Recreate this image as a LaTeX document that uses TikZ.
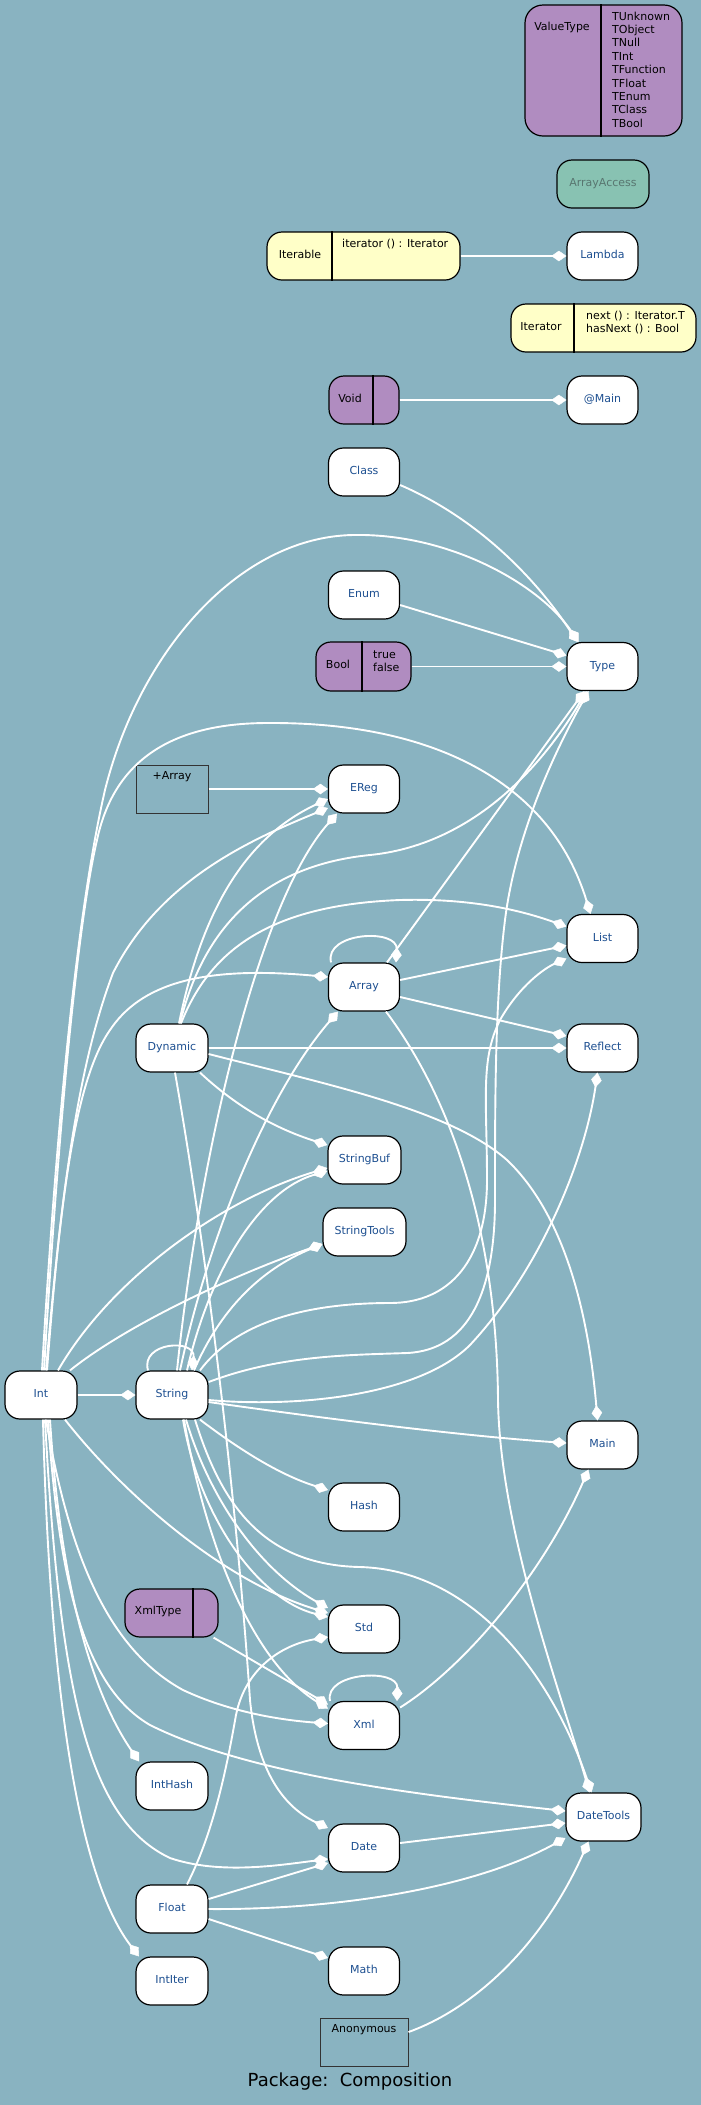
\documentclass[tikz,border=0pt]{standalone}
\usepackage{fontspec}
\setmainfont{DejaVu Sans}
\usetikzlibrary{arrows.meta}
\definecolor{bg}{RGB}{137,179,193}
\definecolor{purp}{RGB}{176,140,192}
\definecolor{yel}{RGB}{255,255,200}
\definecolor{grn}{RGB}{136,194,178}
\definecolor{nblue}{RGB}{30,80,145}
\definecolor{agray}{RGB}{88,118,112}
\tikzset{
  cls/.style={draw=black, line width=1.2pt, fill=white, rounded corners=15pt,
    minimum width=71pt, minimum height=48pt, inner sep=0pt, text=nblue,
    font=\fontsize{11}{13}\selectfont, text height=8pt, text depth=2.5pt},
  rec/.style={draw=black, line width=1.2pt, rounded corners=15pt, inner sep=0pt},
  one/.style={inner sep=0pt, text=black, font=\fontsize{11}{13}\selectfont, text height=8pt, text depth=2.5pt},
  multi/.style={inner sep=0pt, text=black, align=left},
  pkg/.style={draw=black!80, line width=1pt, inner sep=0pt},
  divider/.style={draw=black, line width=1.2pt},
  comp/.style={draw=white, line width=1.9pt, -{Diamond[length=15pt,width=10.5pt,line width=0.4pt]}},
}
\begin{document}
\begin{tikzpicture}[x=1pt,y=-1pt]
\fill[bg] (0,0) rectangle (701,2105);
\useasboundingbox (0,0) rectangle (701,2105);

% ---- split (record) nodes
\node[rec, fill=purp, minimum width=157pt, minimum height=131pt, rounded corners=18pt] (ValueType) at (603.5,70.5) {};
\draw[divider] ([xshift=-2.5pt]ValueType.north) -- ([xshift=-2.5pt]ValueType.south);
\node[one] (ValueTypeLbl) at (562,28) {ValueType};
\node[multi, anchor=north west, font=\fontsize{11}{13.4}\selectfont] (ValueTypeList) at (612,11.6) {TUnknown\\TObject\\TNull\\TInt\\TFunction\\TFloat\\TEnum\\TClass\\TBool};

\node[cls, fill=grn, text=agray, minimum width=92pt] (ArrayAccess) at (603,184) {ArrayAccess};

\node[rec, fill=yel, minimum width=193pt, minimum height=48pt] (Iterable) at (363.5,256) {};
\draw[divider] ([xshift=-31.5pt]Iterable.north) -- ([xshift=-31.5pt]Iterable.south);
\node[one] (IterableLbl) at (300,256) {Iterable};
\node[multi, anchor=base west, font=\fontsize{11}{13}\selectfont] (IterableOps) at (342,247) {iterator () : Iterator};
\node[cls] (Lambda) at (602.5,256) {Lambda};

\node[rec, fill=yel, minimum width=185pt, minimum height=48pt] (Iterator) at (603.5,328) {};
\draw[divider] ([xshift=-29.5pt]Iterator.north) -- ([xshift=-29.5pt]Iterator.south);
\node[one] (IteratorLbl) at (541,328) {Iterator};
\node[multi, anchor=north west, font=\fontsize{11}{13}\selectfont] (IteratorOps) at (586,310.8) {next () : Iterator.T\\hasNext () : Bool};

\node[rec, fill=purp, minimum width=70pt, minimum height=48pt] (Void) at (364,400) {};
\draw[divider] ([xshift=9pt]Void.north) -- ([xshift=9pt]Void.south);
\node[one] (VoidLbl) at (350,400) {Void};
\node[cls] (AtMain) at (602.5,400) {@Main};

\node[cls] (Class) at (364,472) {Class};
\node[cls] (Enum) at (364,595) {Enum};

\node[rec, fill=purp, minimum width=95pt, minimum height=49pt] (Bool) at (363.5,666.5) {};
\draw[divider] ([xshift=-1.5pt]Bool.north) -- ([xshift=-1.5pt]Bool.south);
\node[one] (BoolLbl) at (338,666) {Bool};
\node[multi, anchor=north west, font=\fontsize{11}{13}\selectfont] (BoolVals) at (373,650.3) {true\\false};
\node[cls] (Type) at (602.5,666.5) {Type};

\node[pkg, minimum width=72pt, minimum height=48pt] (PlusArray) at (172,789) {};
\node[one] (PlusArrayLbl) at (172,777) {+Array};
\node[cls] (EReg) at (364,789) {EReg};

\node[cls] (List) at (602.5,938.5) {List};
\node[cls] (Array) at (364,987) {Array};
\node[cls, minimum width=72pt] (Dynamic) at (172,1048) {Dynamic};
\node[cls] (Reflect) at (602.5,1048) {Reflect};
\node[cls, minimum width=73pt] (StringBuf) at (364.5,1160) {StringBuf};
\node[cls, minimum width=83pt] (StringTools) at (364.5,1232) {StringTools};
\node[cls, minimum width=72pt] (Int) at (41,1395) {Int};
\node[cls, minimum width=72pt] (String) at (172,1395) {String};
\node[cls] (Main) at (602.5,1445) {Main};
\node[cls] (Hash) at (364,1507) {Hash};

\node[rec, fill=purp, minimum width=93pt, minimum height=48pt] (XmlType) at (171.5,1613) {};
\draw[divider] ([xshift=21.5pt]XmlType.north) -- ([xshift=21.5pt]XmlType.south);
\node[one] (XmlTypeLbl) at (158,1612) {XmlType};

\node[cls] (Std) at (364,1629) {Std};
\node[cls] (Xml) at (364,1725.5) {Xml};
\node[cls, minimum width=72pt] (IntHash) at (172,1786) {IntHash};
\node[cls, minimum width=75pt] (DateTools) at (603.5,1817) {DateTools};
\node[cls] (Date) at (364,1848) {Date};
\node[cls, minimum width=72pt] (Float) at (172,1909) {Float};
\node[cls] (Math) at (364,1971) {Math};
\node[cls, minimum width=72pt] (IntIter) at (172,1981) {IntIter};

\node[pkg, minimum width=88pt, minimum height=48pt] (Anonymous) at (364,2042) {};
\node[one] (AnonymousLbl) at (364,2030) {Anonymous};

\node[inner sep=0pt, font=\fontsize{18}{21}\selectfont] (Title) at (350,2082) {Package:\ \ Composition};

% ---- connectors
\draw[comp] (Iterable.east) -- (Lambda.west);
\draw[comp] (Void.east) -- (AtMain.west);
\draw[comp] ([yshift=-13pt]Class.east) .. controls (470,515) and (530,570) .. ([xshift=-25pt]Type.north);
\draw[comp] ([yshift=-10pt]Enum.east) -- ([yshift=11pt]Type.west);
\draw[comp] (Bool.east) -- (Type.west);
\draw[comp] ([xshift=1pt]Int.north) .. controls (55,1150) and (75,920) .. (105,790) .. controls (140,650) and (240,537) .. (353,535) .. controls (450,533) and (540,585) .. ([xshift=-24pt]Type.north);
\draw[comp] ([xshift=23pt]Array.north) -- ([xshift=-18pt]Type.south);
\draw[comp] ([xshift=8pt]Dynamic.north) .. controls (205,920) and (270,865) .. (370,855) .. controls (470,845) and (540,770) .. ([xshift=-16pt]Type.south);
\draw[comp] ([yshift=13pt]String.east) .. controls (280,1355) and (350,1355) .. (407,1353) .. controls (470,1350) and (495,1290) .. (495,1200) .. controls (495,1100) and (495,1000) .. (505,920) .. controls (515,840) and (550,760) .. ([xshift=-14pt]Type.south);

\draw[comp] ([xshift=3pt]Int.north) .. controls (57,1150) and (76,930) .. (97,840) .. controls (112,770) and (160,723) .. (268,723) .. controls (430,722) and (550,780) .. ([xshift=-12pt]List.north);
\draw[comp] ([xshift=9pt]Dynamic.north) .. controls (210,950) and (270,905) .. (400,900) .. controls (470,898) and (520,910) .. ([yshift=12pt]List.west);
\draw[comp] ([yshift=7pt]Array.east) -- ([yshift=-7pt]List.west);
\draw[comp] ([xshift=28pt]String.north) .. controls (230,1330) and (290,1303) .. (390,1303) .. controls (450,1303) and (487,1260) .. (487,1180) .. controls (487,1100) and (480,1060) .. (500,1020) .. controls (520,985) and (545,968) .. ([yshift=-20pt]List.west);

\draw[comp] ([yshift=-10pt]Array.east) -- ([yshift=12pt]Reflect.west);
\draw[comp] (Dynamic.east) -- (Reflect.west);
\draw[comp] ([yshift=-5pt]String.east) .. controls (300,1408) and (420,1395) .. (470,1345) .. controls (540,1270) and (585,1160) .. ([xshift=-5pt]Reflect.south);

\draw[comp] (PlusArray.east) -- (EReg.west);
\draw[comp] ([xshift=7pt]Dynamic.north) .. controls (200,920) and (240,840) .. ([yshift=-10pt]EReg.west);
\draw[comp] ([xshift=5pt]Int.north) .. controls (62,1180) and (80,1060) .. (113,973) .. controls (160,880) and (250,840) .. ([yshift=-19pt]EReg.west);
\draw[comp] ([xshift=5pt]String.north) .. controls (200,1150) and (260,900) .. ([xshift=-27pt]EReg.south);

\draw[comp] ([xshift=6pt]Int.north) .. controls (60,1200) and (75,1080) .. (110,1030) .. controls (140,985) and (200,965) .. ([yshift=10pt]Array.west);
\draw[comp] ([xshift=8pt]String.north) .. controls (210,1230) and (270,1090) .. ([xshift=-26pt]Array.south);
\draw[comp] ([xshift=-33pt]Array.north) .. controls (324,932) and (398,928) .. ([xshift=32pt]Array.north);

\draw[comp] ([xshift=28pt]Dynamic.south) .. controls (240,1110) and (280,1130) .. ([yshift=15pt]StringBuf.west);
\draw[comp] ([xshift=17pt]Int.north) .. controls (110,1280) and (220,1200) .. ([yshift=-8pt]StringBuf.west);
\draw[comp] ([xshift=15pt]String.north) .. controls (210,1270) and (260,1190) .. ([yshift=-11pt]StringBuf.west);

\draw[comp] ([xshift=29pt]Int.north) .. controls (120,1330) and (220,1280) .. ([yshift=-12pt]StringTools.west);
\draw[comp] ([xshift=22pt]String.north) .. controls (220,1310) and (260,1270) .. ([yshift=-12pt]StringTools.west);

\draw[comp] (Int.east) -- (String.west);
\draw[comp] ([xshift=-24pt]String.north) .. controls (140,1342) and (196,1338) .. ([xshift=20pt]String.north);

\draw[comp] ([yshift=-7pt]String.east) .. controls (300,1415) and (450,1435) .. ([yshift=2pt]Main.west);
\draw[comp] ([yshift=-6pt]Dynamic.east) .. controls (330,1085) and (450,1110) .. (507,1160) .. controls (570,1220) and (590,1330) .. ([xshift=-5pt]Main.north);
\draw[comp] ([yshift=18pt]Xml.east) .. controls (460,1670) and (540,1580) .. ([xshift=-14pt]Main.south);

\draw[comp] ([xshift=28pt]String.south) .. controls (240,1450) and (280,1475) .. ([yshift=17pt]Hash.west);

\draw[comp] ([xshift=14pt]String.south) .. controls (210,1500) and (260,1570) .. ([yshift=21pt]Std.west);
\draw[comp] ([xshift=11pt]String.south) .. controls (200,1520) and (260,1600) .. ([yshift=12pt]Std.west);
\draw[comp] ([xshift=24pt]Int.south) .. controls (120,1490) and (220,1580) .. ([yshift=16pt]Std.west);
\draw[comp] ([xshift=15pt]Float.north) .. controls (215,1830) and (228,1760) .. (236,1715) .. controls (245,1670) and (280,1645) .. ([yshift=-8pt]Std.west);

\draw[comp] ([xshift=3pt]Dynamic.south) .. controls (215,1300) and (240,1550) .. (250,1700) .. controls (258,1780) and (290,1810) .. ([yshift=20pt]Date.west);
\draw[comp] ([xshift=4pt]Int.south) .. controls (60,1700) and (90,1820) .. (170,1858) .. controls (220,1875) and (280,1865) .. ([yshift=-11pt]Date.west);
\draw[comp] ([yshift=10pt]Float.east) -- ([yshift=-15pt]Date.west);

\draw[comp] ([xshift=-5pt]XmlType.south east) -- ([yshift=21pt]Xml.west);
\draw[comp] ([xshift=12pt]String.south) .. controls (205,1540) and (250,1660) .. ([yshift=17pt]Xml.west);
\draw[comp] ([xshift=5pt]Int.south) .. controls (70,1560) and (110,1650) .. (183,1690) .. controls (230,1712) and (280,1720) .. ([yshift=2pt]Xml.west);
\draw[comp] ([xshift=-34pt]Xml.north) .. controls (324,1672) and (398,1668) .. ([xshift=33pt]Xml.north);

\draw[comp] ([xshift=9pt]Int.south) .. controls (60,1580) and (90,1690) .. ([xshift=-33pt]IntHash.north);
\draw[comp] ([xshift=2pt]Int.south) .. controls (50,1700) and (80,1880) .. ([xshift=-33pt]IntIter.north);

\draw[comp] ([xshift=7pt]Int.south) .. controls (60,1600) and (90,1690) .. (150,1725) .. controls (250,1775) and (420,1795) .. ([yshift=6pt]DateTools.west);
\draw[comp] (Float.east) .. controls (330,1910) and (470,1890) .. ([yshift=-21pt]DateTools.west);
\draw[comp] ([yshift=-10pt]Float.east) -- ([yshift=13pt]Math.west);
\draw[comp] ([yshift=5pt]Date.east) -- ([yshift=-6pt]DateTools.west);
\draw[comp] ([xshift=22pt]Array.south) .. controls (460,1110) and (497,1250) .. (498,1400) .. controls (500,1530) and (560,1690) .. ([xshift=-14pt]DateTools.north);
\draw[comp] ([xshift=23pt]String.south) .. controls (220,1500) and (260,1565) .. (360,1567) .. controls (470,1570) and (550,1670) .. ([xshift=-12pt]DateTools.north);
\draw[comp] ([yshift=10pt]Anonymous.east) .. controls (470,2010) and (540,1950) .. ([xshift=-15pt]DateTools.south);
\end{tikzpicture}
\end{document}
